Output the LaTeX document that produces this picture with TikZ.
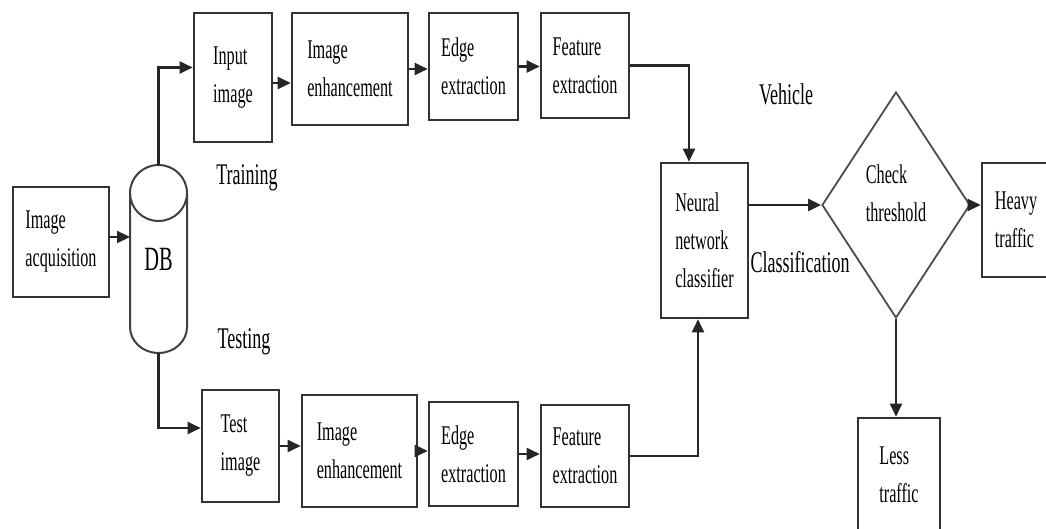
\documentclass[tikz,border=0pt]{standalone}
\usepackage{fontspec}
\setmainfont{Liberation Serif}[FakeStretch=0.6]
\usetikzlibrary{shapes.geometric,arrows.meta}

\tikzset{
  blk/.style={draw=black!80, line width=1.3pt, inner sep=0pt, align=left,
    font=\fontsize{13.5}{19}\selectfont},
  dbs/.style={minimum width=28.5pt, minimum height=94pt, inner sep=0pt,
    outer sep=0pt, font=\fontsize{17}{20}\selectfont},
  dbline/.style={draw=black!75, line width=1pt},
  chkbox/.style={diamond, draw=black!70, line width=0.9pt, minimum width=74pt,
    minimum height=113pt, inner sep=0pt, align=left, text depth=12pt,
    font=\fontsize{13.5}{19}\selectfont},
  lbl/.style={font=\fontsize{15}{18}\selectfont, inner sep=0pt},
  arr/.style={line width=1.1pt, draw=black!85, -{Triangle[length=6.5pt,width=6pt]}}
}

\begin{document}
\begin{tikzpicture}[x=0.5pt,y=-0.5pt]
    \useasboundingbox (0,0) rectangle (1046,529);

    % acquisition and database
    \node[blk, minimum width=48pt, minimum height=55pt] (acq) at (61,242) {Image\\acquisition};
    \node[dbs] (db) at (158.5,259) {DB};
    \draw[dbline] ([yshift=-14pt]db.north) ellipse [x radius=14.25pt, y radius=14pt];
    \draw[dbline] ([yshift=-14pt]db.north west) -- ([yshift=13pt]db.south west)
        arc [start angle=180, end angle=360, x radius=14.25pt, y radius=13pt]
        -- ([yshift=-14pt]db.north east);

    % training row
    \node[blk, minimum width=39pt, minimum height=64.5pt] (inp) at (233,77.5) {Input\\image};
    \node[blk, minimum width=58pt, minimum height=56pt] (enha) at (350,69) {Image\\enhancement};
    \node[blk, minimum width=44.5pt, minimum height=53.5pt] (edgea) at (473.5,66.5) {Edge\\extraction};
    \node[blk, minimum width=44pt, minimum height=52.5pt] (feata) at (585,65.5) {Feature\\extraction};

    % testing row
    \node[blk, minimum width=38.5pt, minimum height=56pt] (tst) at (240.5,446) {Test\\image};
    \node[blk, minimum width=57.5pt, minimum height=56pt] (enhb) at (359.5,451) {Image\\enhancement};
    \node[blk, minimum width=44.5pt, minimum height=52pt] (edgeb) at (473.5,454) {Edge\\extraction};
    \node[blk, minimum width=44pt, minimum height=51pt] (featb) at (585,456) {Feature\\extraction};

    % classification
    \node[blk, minimum width=43.5pt, minimum height=77.5pt] (nn) at (704.5,240.5) {Neural\\network\\classifier};
    \node[chkbox] (chk) at (896,205) {Check\\threshold};
    \node[blk, minimum width=34pt, minimum height=57pt] (heavy) at (1016,220) {Heavy\\traffic};
    \node[blk, minimum width=41pt, minimum height=57pt] (less) at (899,475) {Less\\traffic};

    % labels
    \node[lbl] (train) at (247,178) {Training};
    \node[lbl] (test) at (244,342) {Testing};
    \node[lbl] (veh) at (786,94) {Vehicle};
    \node[lbl] (cls) at (800,262) {Classification};

    % connectors
    \coordinate (a1) at ([yshift=-2.75pt]inp.east);
    \draw[arr] ([yshift=2.5pt]acq.east) -- ([yshift=2.5pt]acq.east -| db.west);
    \draw[arr] (db.north) |- ([yshift=5pt]inp.west);
    \draw[arr] (a1) -- (a1 -| enha.west);
    \draw[arr] (enha.east) -- (enha.east -| edgea.west);
    \draw[arr] (edgea.east) -- (edgea.east -| feata.west);
    \draw[arr] (feata.east) -| ([xshift=-7.75pt]nn.north);

    \draw[arr] (db.south) |- ([yshift=9pt]tst.west);
    \draw[arr] (tst.east) -- (tst.east -| enhb.west);
    \draw[arr] (enhb.east) -- (enhb.east -| edgeb.west);
    \draw[arr] (edgeb.east) -- (edgeb.east -| featb.west);
    \draw[arr] (featb.east) -| ([xshift=-3.25pt]nn.south);

    \draw[arr] (chk.west -| nn.east) -- (chk.west);
    \draw[arr] (chk.east) -- (chk.east -| heavy.west);
    \draw[arr] (chk.south) -- (chk.south |- less.north);

\end{tikzpicture}
\end{document}
